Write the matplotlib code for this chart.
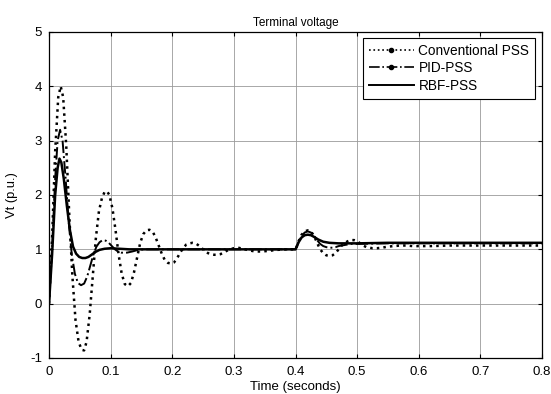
import numpy as np
import matplotlib.pyplot as plt
from matplotlib.lines import Line2D

plt.rcParams['font.family'] = ['Liberation Sans', 'DejaVu Sans']
plt.rcParams['axes.unicode_minus'] = False

# Conventional PSS (dotted)
t_conv = [0.000, 0.005, 0.010, 0.015, 0.019, 0.023, 0.028, 0.033, 0.038, 0.043,
          0.048, 0.053, 0.057, 0.061, 0.066, 0.071, 0.076, 0.081, 0.086, 0.090,
          0.094, 0.098, 0.103, 0.108, 0.113, 0.118, 0.123, 0.128, 0.133, 0.138,
          0.143, 0.148, 0.153, 0.158, 0.163, 0.168, 0.173, 0.178, 0.183, 0.188,
          0.193, 0.198, 0.203, 0.208, 0.213, 0.218, 0.223, 0.228, 0.233, 0.238,
          0.243, 0.248, 0.253, 0.258, 0.263, 0.268, 0.273, 0.278, 0.283, 0.288,
          0.293, 0.300, 0.307, 0.315, 0.325, 0.335, 0.345, 0.355, 0.370, 0.385,
          0.400, 0.402, 0.405, 0.410, 0.415, 0.420, 0.425, 0.430, 0.435, 0.440,
          0.445, 0.450, 0.455, 0.460, 0.465, 0.470, 0.475, 0.480, 0.485, 0.490,
          0.495, 0.500, 0.505, 0.510, 0.515, 0.520, 0.525, 0.532, 0.540, 0.550,
          0.560, 0.570, 0.580, 0.590, 0.600, 0.620, 0.650, 0.700, 0.750, 0.800]
v_conv = [0.00, 1.20, 2.80, 3.80, 4.00, 3.80, 2.90, 1.60, 0.50, -0.30,
          -0.70, -0.85, -0.86, -0.70, -0.20, 0.50, 1.20, 1.70, 1.95, 2.05,
          2.07, 2.00, 1.75, 1.35, 0.90, 0.55, 0.36, 0.32, 0.38, 0.58,
          0.85, 1.12, 1.28, 1.35, 1.36, 1.33, 1.22, 1.07, 0.92, 0.80,
          0.75, 0.74, 0.76, 0.84, 0.94, 1.03, 1.09, 1.11, 1.12, 1.11,
          1.07, 1.02, 0.97, 0.93, 0.91, 0.90, 0.90, 0.91, 0.94, 0.97,
          1.00, 1.02, 1.03, 1.01, 0.98, 0.96, 0.96, 0.97, 0.99, 1.00,
          1.00, 1.05, 1.15, 1.27, 1.33, 1.35, 1.33, 1.25, 1.12, 1.00,
          0.93, 0.89, 0.88, 0.89, 0.93, 1.00, 1.07, 1.12, 1.15, 1.17,
          1.17, 1.15, 1.11, 1.07, 1.04, 1.03, 1.02, 1.02, 1.03, 1.05,
          1.06, 1.07, 1.07, 1.06, 1.06, 1.06, 1.07, 1.07, 1.07, 1.07]

# PID-PSS (dash-dot)
t_pid = [0.000, 0.005, 0.010, 0.014, 0.018, 0.022, 0.027, 0.032, 0.037, 0.042,
         0.047, 0.052, 0.057, 0.062, 0.067, 0.072, 0.077, 0.082, 0.087, 0.092,
         0.097, 0.102, 0.107, 0.112, 0.117, 0.122, 0.127, 0.135, 0.145, 0.155,
         0.170, 0.250, 0.330, 0.400, 0.402, 0.405, 0.410, 0.415, 0.420, 0.425,
         0.430, 0.435, 0.440, 0.445, 0.450, 0.455, 0.460, 0.465, 0.470, 0.480,
         0.490, 0.500, 0.550, 0.650, 0.800]
v_pid = [0.00, 1.00, 2.30, 3.00, 3.20, 3.00, 2.30, 1.50, 0.90, 0.55,
         0.38, 0.34, 0.37, 0.50, 0.70, 0.90, 1.05, 1.13, 1.17, 1.16,
         1.12, 1.06, 1.00, 0.96, 0.94, 0.935, 0.94, 0.96, 0.99, 1.00,
         1.00, 1.00, 1.00, 1.00, 1.05, 1.13, 1.25, 1.31, 1.33, 1.31,
         1.25, 1.17, 1.10, 1.06, 1.04, 1.03, 1.03, 1.04, 1.06, 1.08,
         1.10, 1.10, 1.11, 1.11, 1.11]

# RBF-PSS (solid)
t_rbf = [0.000, 0.005, 0.010, 0.014, 0.017, 0.020, 0.024, 0.029, 0.034, 0.039,
         0.044, 0.049, 0.054, 0.059, 0.064, 0.069, 0.075, 0.082, 0.090, 0.100,
         0.115, 0.130, 0.250, 0.400, 0.402, 0.405, 0.410, 0.415, 0.420, 0.425,
         0.430, 0.437, 0.445, 0.455, 0.470, 0.500, 0.550, 0.650, 0.800]
v_rbf = [0.00, 0.90, 2.00, 2.50, 2.67, 2.60, 2.30, 1.80, 1.35, 1.05,
         0.92, 0.86, 0.84, 0.84, 0.86, 0.90, 0.95, 0.99, 1.01, 1.02,
         1.01, 1.00, 1.00, 1.00, 1.05, 1.13, 1.22, 1.26, 1.27, 1.26,
         1.23, 1.18, 1.14, 1.12, 1.11, 1.11, 1.12, 1.12, 1.12]

labels = ['Conventional PSS', 'PID-PSS', 'RBF-PSS']

fig = plt.figure(figsize=(5.51, 3.94), dpi=100)
ax = fig.add_axes([49/551, 1-358/394, (542-49)/551, (358-32)/394])

ax.plot(t_conv, v_conv, 'k:', lw=1.8)
ax.plot(t_pid, v_pid, 'k-.', lw=1.4)
ax.plot(t_rbf, v_rbf, 'k-', lw=1.8)

ax.set_xlim(0, 0.8)
ax.set_ylim(-1, 5)
ax.set_xticks(np.arange(0, 0.81, 0.1))
ax.set_xticklabels(['0', '0.1', '0.2', '0.3', '0.4', '0.5', '0.6', '0.7', '0.8'])
ax.set_yticks(range(-1, 6))
ax.grid(True, color='#9a9a9a', lw=0.6, ls='-')
ax.tick_params(direction='in', length=3, top=True, right=True, labelsize=9.5)
ax.tick_params(axis='x', pad=6)
ax.tick_params(axis='y', pad=5)
for s in ax.spines.values():
    s.set_linewidth(0.9)

ax.set_title('Terminal voltage', fontsize=8.5, pad=4)
ax.set_xlabel('Time (seconds)', fontsize=9.5, labelpad=2)
ax.set_ylabel('Vt (p.u.)', fontsize=9.3, labelpad=9)

handles = [Line2D([], [], color='k', ls=':', lw=1.2, marker='.', markersize=6),
           Line2D([], [], color='k', ls='-.', lw=1.2, marker='.', markersize=6),
           Line2D([], [], color='k', ls='-', lw=1.4)]
leg = ax.legend(handles, labels, loc='upper right', bbox_to_anchor=(0.9858, 0.982),
                fontsize=9.8, fancybox=False, framealpha=1, edgecolor='k',
                handlelength=3.3, handletextpad=0.35, borderpad=0.42, labelspacing=0.27,
                borderaxespad=0, numpoints=1)
leg.get_frame().set_linewidth(0.8)

fig.savefig('out.png', dpi=100)
